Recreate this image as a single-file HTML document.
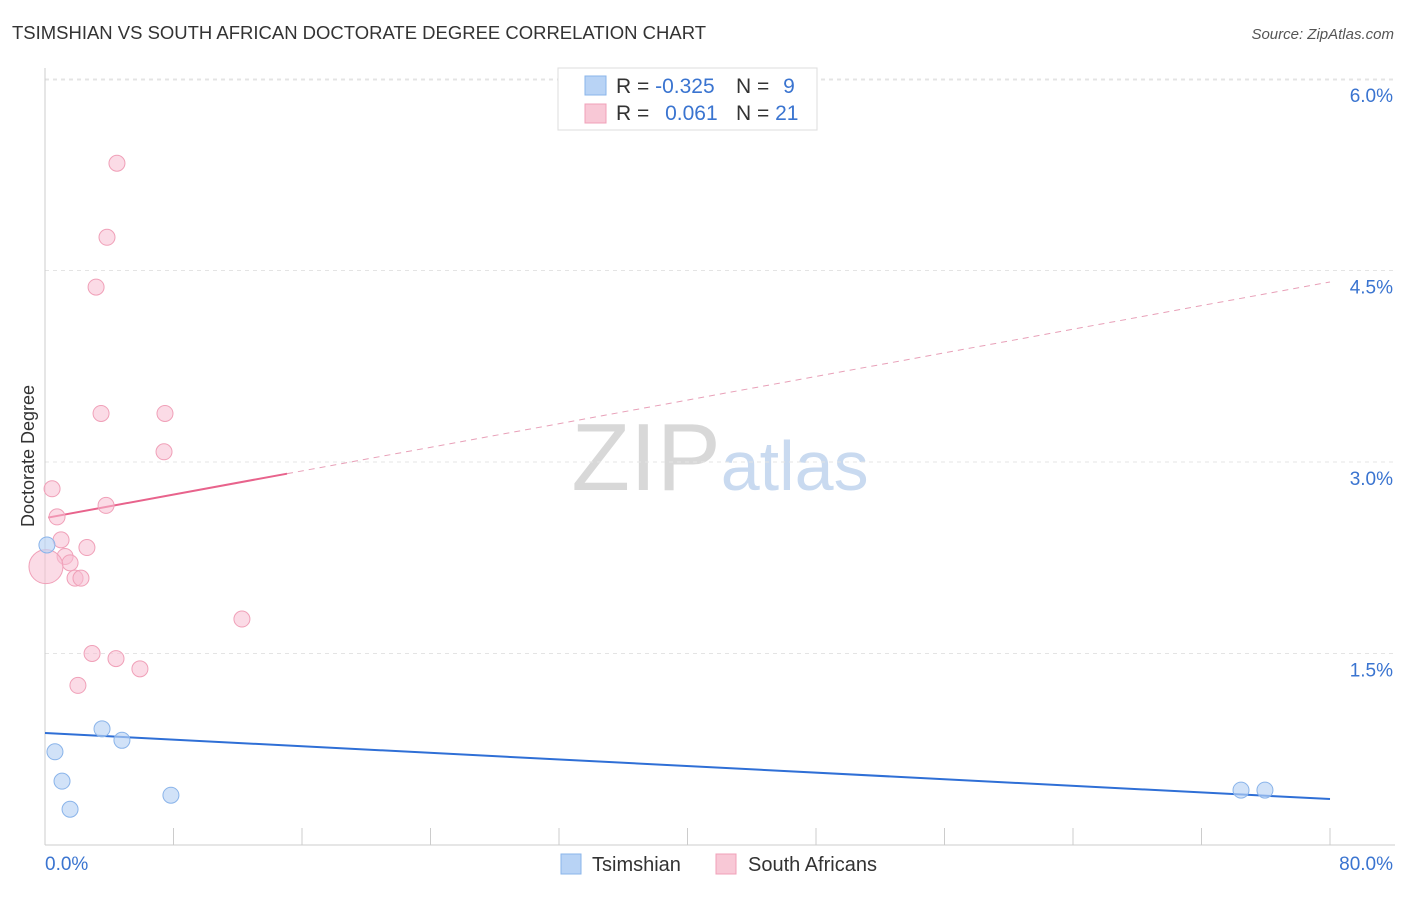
<!DOCTYPE html>
<html><head><meta charset="utf-8"><style>
body{margin:0;background:#fff;font-family:"Liberation Sans",sans-serif;}
svg text{font-family:"Liberation Sans",sans-serif;}
</style></head><body>
<svg id="chart" width="1406" height="892" xmlns="http://www.w3.org/2000/svg">
<text x="12" y="39" font-size="18" fill="#333" textLength="694" lengthAdjust="spacingAndGlyphs">TSIMSHIAN VS SOUTH AFRICAN DOCTORATE DEGREE CORRELATION CHART</text>
<text x="1394" y="39" font-size="15" fill="#555" text-anchor="end" font-style="italic">Source: ZipAtlas.com</text>
<text x="34" y="456" font-size="18" fill="#333" text-anchor="middle" transform="rotate(-90 34 456)">Doctorate Degree</text>
<text x="720" y="490" font-size="96" fill="#ddd" text-anchor="middle" font-family="Liberation Serif"><tspan fill="#d8d8d8">ZIP</tspan><tspan fill="#c9daf0" font-family="Liberation Sans" font-size="70">atlas</tspan></text>
<g id="grid"></g><g id="axes"></g><g id="trends"></g><g id="points"></g>
<g>
<rect x="558" y="68" width="259" height="62" fill="#fff" stroke="#ddd"/>
<rect x="585" y="76" width="21" height="19" fill="#b8d3f5" stroke="#8ab4ea"/>
<rect x="585" y="104" width="21" height="19" fill="#f8c8d6" stroke="#f0a0b8"/>
<text x="616" y="93" font-size="21" fill="#333">R = <tspan fill="#3a74d0">-0.325</tspan></text>
<text x="736" y="93" font-size="21" fill="#333">N = <tspan fill="#3a74d0" dx="8">9</tspan></text>
<text x="616" y="120" font-size="21" fill="#333">R = <tspan fill="#3a74d0" dx="10">0.061</tspan></text>
<text x="736" y="120" font-size="21" fill="#333">N = <tspan fill="#3a74d0">21</tspan></text>
</g>
<g>
<rect x="561" y="854" width="20" height="20" fill="#b8d3f5" stroke="#8ab4ea"/>
<text x="592" y="871" font-size="20" fill="#333">Tsimshian</text>
<rect x="716" y="854" width="20" height="20" fill="#f8c8d6" stroke="#f0a0b8"/>
<text x="748" y="871" font-size="20" fill="#333">South Africans</text>
</g>
</svg>
<script>
const yTicks=[1.5,3.0,4.5,6.0];
const yTickLabels=["1.5%","3.0%","4.5%","6.0%"];
const xTickLabels=["0.0%","80.0%"];
const blueX=[0.12,0.62,1.06,1.56,3.55,4.79,7.84,74.46,75.95];
const blueY=[2.35,0.73,0.50,0.28,0.91,0.82,0.39,0.43,0.43];
const pinkX=[4.48,3.86,3.18,3.49,7.47,7.41,0.44,0.75,3.80,1.0,2.61,1.25,1.56,1.87,2.24,0.06,12.26,2.93,4.42,5.91,2.05];
const pinkY=[5.34,4.76,4.37,3.38,3.38,3.08,2.79,2.57,2.66,2.39,2.33,2.26,2.21,2.09,2.09,2.18,1.77,1.50,1.46,1.38,1.25];
const blueTrend=[0.877,0.36];
const pinkTrend=[2.56,4.41];
const pinkSolidEnd=15.07;
const NS="http://www.w3.org/2000/svg";
const X=v=>45+v/80*1285, Y=v=>845-v*127.67;
function mk(tag,attrs,parent){const e=document.createElementNS(NS,tag);for(const k in attrs)e.setAttribute(k,attrs[k]);document.getElementById(parent).appendChild(e);return e;}
yTicks.forEach((t,i)=>{
 const l=mk('line',{x1:45,x2:1395,y1:Y(t),y2:Y(t),stroke:'#e4e4e4','stroke-dasharray':'4,4'},'grid');
 
 
 const tx=mk('text',{x:1393,y:Y(t)+23,'font-size':19,fill:'#3a74d0','text-anchor':'end'},'grid');
 tx.textContent=yTickLabels[i];
 
 
});
const topG=mk('line',{x1:45,x2:1395,y1:80,y2:80,stroke:'#e4e4e4','stroke-dasharray':'4,4'},'grid');


const ya=mk('line',{x1:45,x2:45,y1:68,y2:845,stroke:'#ccc'},'axes');


const xa=mk('line',{x1:45,x2:1395,y1:845,y2:845,stroke:'#ccc'},'axes');


for(let i=0;i<=10;i++){const t=mk('line',{x1:X(i*8),x2:X(i*8),y1:828,y2:845,stroke:'#ccc'},'axes');
 
 }
[[0,'start',45],[80,'end',1393]].forEach((d,i)=>{const t=mk('text',{x:d[2],y:870,'font-size':19,fill:'#3a74d0','text-anchor':d[1]},'axes');t.textContent=xTickLabels[i];
 
 });
const bt=mk('line',{x1:X(0),y1:Y(blueTrend[0]),x2:X(80),y2:Y(blueTrend[1]),stroke:'#2f6fd6','stroke-width':2},'trends');


const pv=x=>pinkTrend[0]+(pinkTrend[1]-pinkTrend[0])*x/80;
const ps=mk('line',{x1:X(0.2),y1:Y(pv(0.2)),x2:X(pinkSolidEnd),y2:Y(pv(pinkSolidEnd)),stroke:'#e8638c','stroke-width':2},'trends');


const pd=mk('line',{x1:X(pinkSolidEnd),y1:Y(pv(pinkSolidEnd)),x2:X(80),y2:Y(pv(80)),stroke:'#e8a0b8','stroke-width':1,'stroke-dasharray':'6,5'},'trends');


pinkX.forEach((x,i)=>{const c=mk('circle',{cx:X(x),cy:Y(pinkY[i]),r:i===15?17:8,fill:'rgba(248,190,210,0.55)',stroke:'#f0a0b8','stroke-width':1},'points');
 
 });
blueX.forEach((x,i)=>{const c=mk('circle',{cx:X(x),cy:Y(blueY[i]),r:8,fill:'rgba(184,211,245,0.65)',stroke:'#8ab4ea','stroke-width':1},'points');
 
 });
</script>
</body></html>
